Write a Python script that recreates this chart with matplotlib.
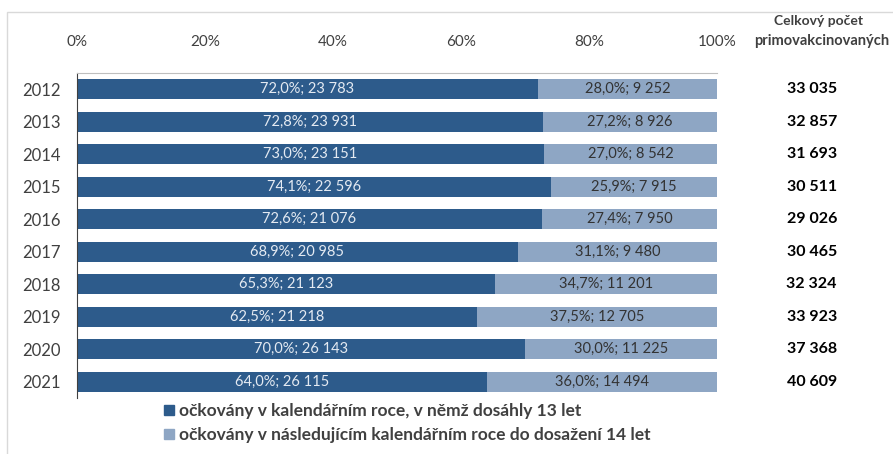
import matplotlib.pyplot as plt
from matplotlib.patches import Rectangle
from matplotlib.lines import Line2D

plt.rcParams["font.family"] = ["Lato", "DejaVu Sans"]

DARK = "#2d5b8b"
LIGHT = "#8ea6c4"
TEXT = "#404040"

years = ["2012", "2013", "2014", "2015", "2016", "2017", "2018", "2019", "2020", "2021"]
pct_same_year = [72.0, 72.8, 73.0, 74.1, 72.6, 68.9, 65.3, 62.5, 70.0, 64.0]
n_same_year = [23783, 23931, 23151, 22596, 21076, 20985, 21123, 21218, 26143, 26115]
pct_next_year = [28.0, 27.2, 27.0, 25.9, 27.4, 31.1, 34.7, 37.5, 30.0, 36.0]
n_next_year = [9252, 8926, 8542, 7915, 7950, 9480, 11201, 12705, 11225, 14494]
totals = [33035, 32857, 31693, 30511, 29026, 30465, 32324, 33923, 37368, 40609]
xticks = [0, 20, 40, 60, 80, 100]


def fmt_num(n):
    return f"{n:,}".replace(",", " ")


def fmt_label(p, n):
    return f"{p:.1f}".replace(".", ",") + "%; " + fmt_num(n)


fig = plt.figure(figsize=(8.93, 4.54), dpi=100)
fig.patch.set_facecolor("white")

# outer chart frame (runs past right/bottom edges like the screenshot)
fig.add_artist(Rectangle((7 / 893, -0.1), 1.2, 1 - 12 / 454 + 0.1, transform=fig.transFigure,
                         fill=False, edgecolor="#d9d9d9", linewidth=1))

ax = fig.add_axes([77 / 893, 1 - 398 / 454, 640 / 893, 325 / 454])
ypos = list(range(len(years)))
ax.barh(ypos, pct_same_year, height=0.62, color=DARK, edgecolor="none")
ax.barh(ypos, pct_next_year, left=pct_same_year, height=0.62, color=LIGHT, edgecolor="none")

for i in ypos:
    ax.text(pct_same_year[i] / 2, i, fmt_label(pct_same_year[i], n_same_year[i]),
            ha="center", va="center", fontsize=10.5, color="#e4eaf2")
    ax.text(pct_same_year[i] + pct_next_year[i] / 2, i, fmt_label(pct_next_year[i], n_next_year[i]),
            ha="center", va="center", fontsize=10.5, color="#333333")
    ax.text(1.148, i, fmt_num(totals[i]), transform=ax.get_yaxis_transform(),
            ha="center", va="center", fontsize=11.5, fontweight="bold", color="black")

ax.set_xlim(0, 100)
ax.set_ylim(9.5, -0.5)
ax.set_yticks(ypos)
ax.set_yticklabels(years, fontsize=12, color=TEXT)
ax.set_xticks(xticks)
ax.set_xticklabels([f"{t}%" for t in xticks], fontsize=11, color=TEXT)
ax.xaxis.tick_top()
ax.tick_params(axis="x", length=0, pad=17)
ax.tick_params(axis="y", length=0, pad=12)
ax.spines["right"].set_visible(False)
ax.spines["bottom"].set_visible(False)
ax.spines["top"].set_color("#bfbfbf")
ax.spines["left"].set_color("#404040")

fig.text(818 / 893, 1 - 21 / 454, "Celkový počet", ha="center", va="center",
         fontsize=10, fontweight="bold", color=TEXT)
fig.text(822 / 893, 1 - 41 / 454, "primovakcinovaných", ha="center", va="center",
         fontsize=10.5, fontweight="bold", color=TEXT)

handles = [
    Line2D([0], [0], marker="s", linestyle="none", markersize=7, color=DARK,
           label="očkovány v kalendářním roce, v němž dosáhly 13 let"),
    Line2D([0], [0], marker="s", linestyle="none", markersize=7, color=LIGHT,
           label="očkovány v následujícím kalendářním roce do dosažení 14 let"),
]
leg = fig.legend(handles=handles, loc="upper left", bbox_to_anchor=(164 / 893, 1 - 403 / 454),
                 frameon=False, fontsize=12.5, handlelength=0.55, handletextpad=0.3,
                 labelspacing=0.45, borderaxespad=0, borderpad=0)
for t in leg.get_texts():
    t.set_color(TEXT)
    t.set_fontweight("bold")

fig.savefig("out.png", dpi=100, facecolor="white")
